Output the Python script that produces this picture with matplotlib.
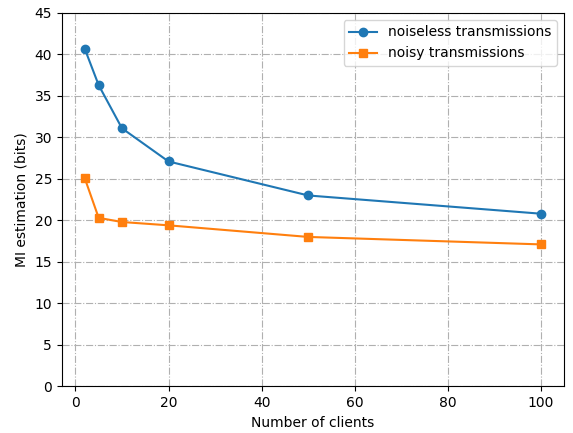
import matplotlib
matplotlib.use("Agg")
import matplotlib.pyplot as plt

clients = [2, 5, 10, 20, 50, 100]
noiseless = [40.7, 36.3, 31.1, 27.1, 23.0, 20.8]
noisy = [25.1, 20.3, 19.8, 19.4, 18.0, 17.1]

fig, ax = plt.subplots(figsize=(5.73, 4.33), dpi=100)
ax.plot(clients, noiseless, "o-", label="noiseless transmissions")
ax.plot(clients, noisy, "s-", label="noisy transmissions")
ax.set_ylim(0, 45)
ax.set_xlabel("Number of clients")
ax.set_ylabel("MI estimation (bits)")
ax.grid(True, linestyle="-.", color="#b0b0b0")
ax.legend(loc="upper right")
fig.subplots_adjust(left=0.108, right=0.984, top=0.970, bottom=0.108)
fig.savefig("out.png", dpi=100)
